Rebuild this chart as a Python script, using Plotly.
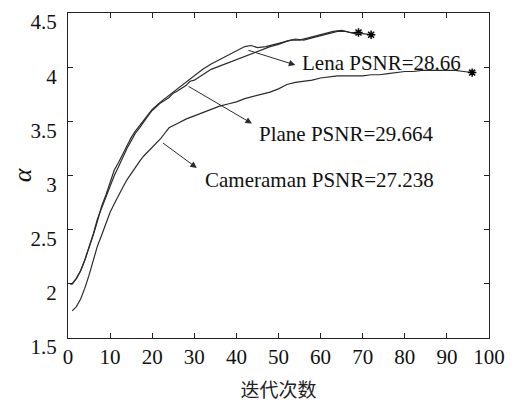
import plotly.graph_objects as go

# ---- data ----
lena_x = [0.5, 1, 2, 3, 4, 5, 6, 7, 8, 9, 10, 11, 12, 13, 14, 15, 16, 17, 18, 19, 20,
          22, 24, 26, 28, 30, 32, 34, 36, 38, 40, 42, 43.5, 45, 47, 49, 51, 53, 55,
          57, 59, 61, 63, 65, 67, 69]
lena_y = [2.0, 2.0, 2.05, 2.12, 2.22, 2.33, 2.45, 2.58, 2.72, 2.82, 2.93, 3.05, 3.12,
          3.2, 3.28, 3.35, 3.41, 3.46, 3.51, 3.56, 3.61, 3.68, 3.74, 3.80, 3.86, 3.92,
          3.98, 4.03, 4.07, 4.11, 4.15, 4.19, 4.20, 4.18, 4.19, 4.21, 4.23, 4.25, 4.25,
          4.27, 4.29, 4.31, 4.33, 4.34, 4.32, 4.32]

plane_x = [0.5, 1, 2, 3, 4, 5, 6, 7, 8, 9, 10, 11, 12, 13, 14, 15, 16, 17, 18, 19, 20,
           22, 24, 25, 26, 28, 29, 30, 32, 34, 36, 38, 40, 42, 44, 46, 48, 50, 52, 54,
           56, 58, 60, 62, 64, 66, 68, 70, 72]
plane_y = [2.0, 2.0, 2.05, 2.12, 2.22, 2.33, 2.46, 2.60, 2.70, 2.80, 2.90, 3.00, 3.08,
           3.17, 3.25, 3.32, 3.39, 3.44, 3.50, 3.55, 3.60, 3.67, 3.72, 3.76, 3.78, 3.83,
           3.87, 3.88, 3.93, 3.98, 4.01, 4.04, 4.07, 4.10, 4.13, 4.16, 4.19, 4.21, 4.24,
           4.26, 4.25, 4.27, 4.29, 4.31, 4.33, 4.33, 4.31, 4.31, 4.30]

cam_x = [1, 2, 3, 4, 5, 6, 7, 8, 9, 10, 11, 12, 13, 14, 15, 16, 17, 18, 19, 20, 21, 22,
         23, 24, 26, 28, 30, 32, 34, 36, 38, 40, 42, 44, 46, 48, 50, 52, 54, 56, 58, 60,
         62, 64, 66, 68, 70, 72, 74, 76, 78, 80, 82, 84, 86, 88, 90, 92, 94, 96]
cam_y = [1.75, 1.79, 1.86, 1.96, 2.08, 2.22, 2.35, 2.45, 2.56, 2.66, 2.74, 2.82, 2.89,
         2.96, 3.02, 3.08, 3.13, 3.18, 3.22, 3.26, 3.30, 3.34, 3.39, 3.44, 3.48, 3.52,
         3.55, 3.58, 3.61, 3.64, 3.66, 3.68, 3.71, 3.73, 3.75, 3.77, 3.80, 3.84, 3.86,
         3.87, 3.88, 3.90, 3.91, 3.92, 3.92, 3.92, 3.92, 3.93, 3.93, 3.94, 3.95, 3.96,
         3.96, 3.97, 3.97, 3.97, 3.97, 3.97, 3.96, 3.95]

labels = ["Lena PSNR=28.66", "Plane PSNR=29.664", "Cameraman PSNR=27.238"]
# arrow tail (on curve), arrow head, text anchor (left, middle)
arrow_tail = [(42.5, 4.16), (28.3, 3.83), (22.2, 3.31)]
arrow_head = [(54.0, 4.02), (43.7, 3.48), (30.6, 3.07)]
text_pos = [(55.2, 4.04), (44.8, 3.385), (32.0, 2.96)]

x_ticks = [0, 10, 20, 30, 40, 50, 60, 70, 80, 90, 100]
y_ticks = [1.5, 2, 2.5, 3, 3.5, 4, 4.5]
y_tick_text = ["1.5", "2", "2.5", "3", "3.5", "4", "4.5"]

LINE = "#2b2b2b"
SERIF = "Liberation Serif, Times New Roman, serif"

fig = go.Figure()
for xs, ys in [(lena_x, lena_y), (plane_x, plane_y), (cam_x, cam_y)]:
    fig.add_trace(go.Scatter(x=xs, y=ys, mode="lines",
                             line=dict(color=LINE, width=1.2), showlegend=False,
                             hoverinfo="skip"))
    fig.add_trace(go.Scatter(x=[xs[-1]], y=[ys[-1]], mode="markers",
                             marker=dict(symbol="asterisk-open", size=7, color="black",
                                         line=dict(color="black", width=1.5)),
                             showlegend=False, hoverinfo="skip"))

for lab, (tx, ty), (hx, hy), (px, py) in zip(labels, arrow_tail, arrow_head, text_pos):
    fig.add_annotation(x=hx, y=hy, ax=tx, ay=ty, xref="x", yref="y", axref="x", ayref="y",
                       text="", showarrow=True, arrowhead=2, arrowsize=1.3, arrowwidth=1,
                       arrowcolor=LINE)
    fig.add_annotation(x=px, y=py, xref="x", yref="y", text=lab, showarrow=False,
                       xanchor="left", yanchor="middle",
                       font=dict(family=SERIF, size=21, color="#111"))

axis_common = dict(showline=True, linecolor="#222", linewidth=1.2, mirror="ticks",
                   ticks="inside", ticklen=5, tickcolor="#222", showgrid=False,
                   zeroline=False, ticklabeloverflow="allow", automargin=False,
                   tickfont=dict(family=SERIF, size=21, color="#111"))

fig.update_xaxes(range=[0, 100], tickvals=x_ticks,
                 title=dict(text="迭代次数", font=dict(family="Noto Sans CJK SC", size=19,
                                                   color="#222"), standoff=20),
                 **axis_common)
fig.update_yaxes(range=[1.4999, 4.5001], tickvals=y_ticks, ticktext=y_tick_text,
                 ticklabelstandoff=6, ticklabelshift=9,
                 title=dict(text="<i>α</i>", font=dict(family=SERIF, size=26, color="#111"),
                            standoff=13),
                 **axis_common)

fig.update_layout(width=514, height=394, margin=dict(l=60, r=33, t=5, b=64),
                  plot_bgcolor="white", paper_bgcolor="white")

fig.write_html("out.html")
